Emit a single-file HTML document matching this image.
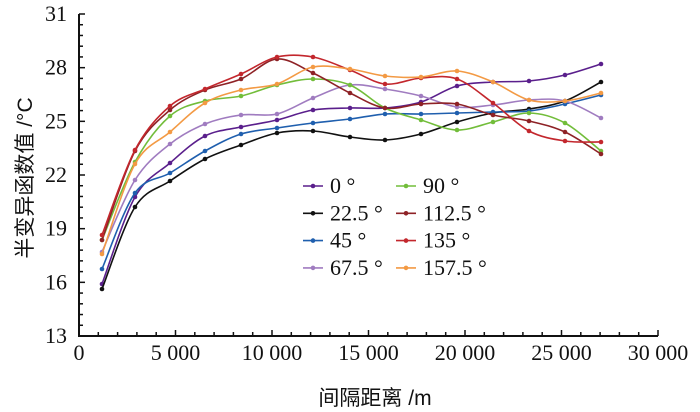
<!DOCTYPE html>
<html><head><meta charset="utf-8"><style>
body{margin:0;background:#fff}
svg{display:block}
.sf{font-family:"Liberation Serif","Times New Roman",Times,serif !important}
</style></head><body>
<svg id="s" width="700" height="412" xmlns="http://www.w3.org/2000/svg">
<g id="g"></g>
<text x="0" y="0" font-size="21" fill="#111" style="font-family:'Liberation Sans','Noto Sans CJK SC',sans-serif" transform="translate(32,178) rotate(-90)" text-anchor="middle">半变异函数值 /°C</text>
<text x="375" y="405" font-size="21" fill="#111" text-anchor="middle" style="font-family:'Liberation Sans','Noto Sans CJK SC',sans-serif">间隔距离 /m</text>
</svg>
<script>
const NS="http://www.w3.org/2000/svg",g=document.getElementById('g');
function el(t,a,txt){const e=document.createElementNS(NS,t);for(const k in a)e.setAttribute(k,a[k]);if(txt!==undefined){e.textContent=txt;e.setAttribute('class','sf');e.setAttribute('fill','#111');}g.appendChild(e);return e;}
const X0=79,X1=658,Y0=336,Y1=14;
el('line',{x1:X0,y1:Y1,x2:X0,y2:Y0+1,stroke:'#111','stroke-width':2});
el('line',{x1:X0-1,y1:Y0,x2:X1,y2:Y0,stroke:'#111','stroke-width':2});
for(let i=0;i<=30;i++){const x=X0+(X1-X0)*i/30;el('line',{x1:x,y1:Y0,x2:x,y2:Y0-(i%5==0?6:4),stroke:'#111','stroke-width':1.5});}
for(let i=0;i<=30;i++){const y=Y0-(Y0-Y1)*i/30;el('line',{x1:X0,y1:y,x2:X0+(i%5==0?6:4),y2:y,stroke:'#111','stroke-width':1.5});}
['0','5 000','10 000','15 000','20 000','25 000','30 000'].forEach((t,i)=>{el('text',{x:X0+(X1-X0)*i/6,y:360,'font-size':22,'text-anchor':'middle'},t);});
[13,16,19,22,25,28,31].forEach((v,i)=>{el('text',{x:67,y:Y0-(Y0-Y1)*i/6+7,'font-size':22,'text-anchor':'end'},v);});
const xs=[102,135,170,205,241,277,313,350,385,421,457,493,529,565,601];
const S=[
['#5a1f8c',[284,197,163,136,127,120,110,108,108,102,86,82,81,75,64]],
['#111111',[289,207,181,159,145,133,131,137,140,134,122,113,109,101,82]],
['#1f5fae',[269,193,173,151,134,128,123,119,114,114,113,112,111,104,95]],
['#a07cc0',[252,180,144,124,115,114,98,85,89,96,107,105,100,101,118]],
['#72bd3a',[240,162,116,101,96,85,79,85,108,120,130,122,113,123,151]],
['#8e2226',[240,151,110,90,79,59,73,93,108,104,104,115,121,132,154]],
['#c3272d',[235,150,106,89,74,57,57,70,84,78,79,103,131,141,142]],
['#f39a44',[254,164,132,103,90,84,67,69,76,77,71,82,100,101,93]]];
function path(ys){let d=`M${xs[0]},${ys[0]}`;for(let i=0;i<xs.length-1;i++){const p0=[xs[Math.max(i-1,0)],ys[Math.max(i-1,0)]],p1=[xs[i],ys[i]],p2=[xs[i+1],ys[i+1]],p3=[xs[Math.min(i+2,xs.length-1)],ys[Math.min(i+2,xs.length-1)]];
const c1=[p1[0]+(p2[0]-p0[0])/6,p1[1]+(p2[1]-p0[1])/6],c2=[p2[0]-(p3[0]-p1[0])/6,p2[1]-(p3[1]-p1[1])/6];d+=`C${c1} ${c2} ${p2}`;}return d;}
S.forEach(([c,ys])=>{el('path',{d:path(ys),fill:'none',stroke:c,'stroke-width':1.6});ys.forEach((y,i)=>el('circle',{cx:xs[i],cy:y,r:2.3,fill:c}));});
const L=['0 °','22.5 °','45 °','67.5 °','90 °','112.5 °','135 °','157.5 °'];
L.forEach((t,i)=>{const col=i<4?0:1,r=i%4,y=186+r*27.3,lx=col?396:303;const c=S[i][0];
el('line',{x1:lx,y1:y,x2:lx+20,y2:y,stroke:c,'stroke-width':1.6});el('circle',{cx:lx+10,cy:y,r:2.3,fill:c});
el('text',{x:lx+27,y:y+7,'font-size':22},t);});
</script>
</body></html>
